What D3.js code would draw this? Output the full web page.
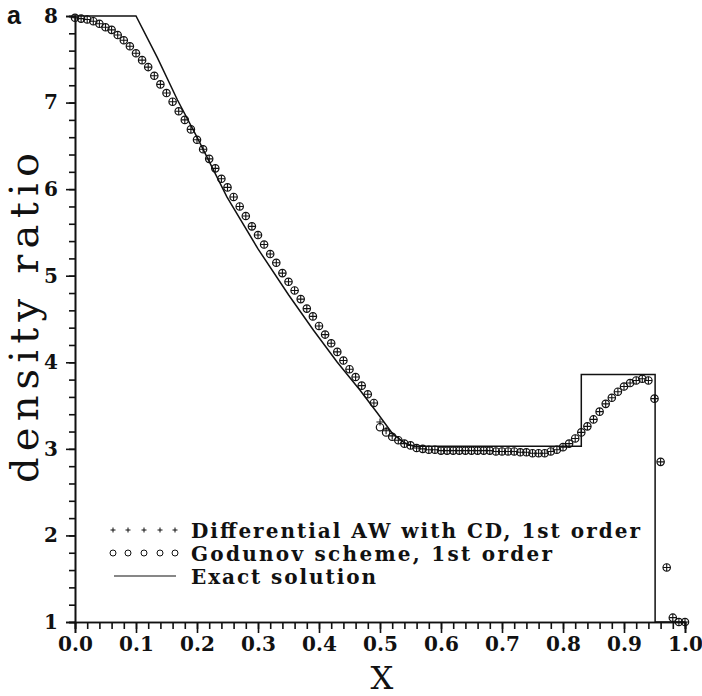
<!DOCTYPE html>
<html>
<head>
<meta charset="utf-8">
<script src="https://cdn.jsdelivr.net/npm/d3@7"></script>
<style>
  body { margin: 0; background: #fff; }
  svg { display: block; }
  .tick text { font-family: 'DejaVu Serif', serif; font-weight: bold; font-size: 20px; fill: #111; }
</style>
</head>
<body>
<div id="chart"></div>
<script>
// ---
// Data
// ---
const cellX = [
  0.00, 0.01, 0.02, 0.03, 0.04, 0.05, 0.06, 0.07, 0.08, 0.09,
  0.10, 0.11, 0.12, 0.13, 0.14, 0.15, 0.16, 0.17, 0.18, 0.19,
  0.20, 0.21, 0.22, 0.23, 0.24, 0.25, 0.26, 0.27, 0.28, 0.29,
  0.30, 0.31, 0.32, 0.33, 0.34, 0.35, 0.36, 0.37, 0.38, 0.39,
  0.40, 0.41, 0.42, 0.43, 0.44, 0.45, 0.46, 0.47, 0.48, 0.49,
  0.50, 0.51, 0.52, 0.53, 0.54, 0.55, 0.56, 0.57, 0.58, 0.59,
  0.60, 0.61, 0.62, 0.63, 0.64, 0.65, 0.66, 0.67, 0.68, 0.69,
  0.70, 0.71, 0.72, 0.73, 0.74, 0.75, 0.76, 0.77, 0.78, 0.79,
  0.80, 0.81, 0.82, 0.83, 0.84, 0.85, 0.86, 0.87, 0.88, 0.89,
  0.90, 0.91, 0.92, 0.93, 0.94, 0.95, 0.96, 0.97, 0.98, 0.99, 1.00
]

const godunov = [
  7.98, 7.97, 7.96, 7.94, 7.91, 7.87, 7.84, 7.78, 7.72, 7.65,
  7.57, 7.49, 7.41, 7.31, 7.21, 7.11, 7.01, 6.90, 6.80, 6.69,
  6.57, 6.46, 6.35, 6.24, 6.12, 6.02, 5.91, 5.80, 5.69, 5.57,
  5.47, 5.36, 5.25, 5.15, 5.03, 4.93, 4.83, 4.73, 4.62, 4.53,
  4.42, 4.32, 4.22, 4.12, 4.02, 3.92, 3.83, 3.73, 3.63, 3.53,
  3.25, 3.19, 3.14, 3.10, 3.06, 3.04, 3.01, 3.00, 2.99, 2.99,
  2.98, 2.98, 2.98, 2.98, 2.98, 2.98, 2.98, 2.98, 2.98, 2.97,
  2.97, 2.97, 2.97, 2.96, 2.96, 2.95, 2.95, 2.95, 2.97, 2.99,
  3.02, 3.06, 3.12, 3.19, 3.26, 3.34, 3.43, 3.52, 3.59, 3.66,
  3.72, 3.76, 3.79, 3.81, 3.79, 3.58, 2.85, 1.63, 1.05, 1.00, 1.00
]

const differentialAW = [
  7.98, 7.97, 7.96, 7.94, 7.91, 7.87, 7.84, 7.78, 7.72, 7.65,
  7.57, 7.49, 7.41, 7.31, 7.21, 7.11, 7.01, 6.90, 6.80, 6.69,
  6.57, 6.46, 6.35, 6.24, 6.12, 6.02, 5.91, 5.80, 5.69, 5.57,
  5.47, 5.36, 5.25, 5.15, 5.03, 4.93, 4.83, 4.73, 4.62, 4.53,
  4.42, 4.32, 4.22, 4.12, 4.02, 3.92, 3.83, 3.73, 3.63, 3.53,
  3.31, 3.21, 3.15, 3.10, 3.06, 3.04, 3.01, 3.00, 2.99, 2.99,
  2.98, 2.98, 2.98, 2.98, 2.98, 2.98, 2.98, 2.98, 2.98, 2.97,
  2.97, 2.97, 2.97, 2.96, 2.96, 2.95, 2.95, 2.95, 2.97, 2.99,
  3.02, 3.06, 3.12, 3.19, 3.26, 3.34, 3.43, 3.52, 3.59, 3.66,
  3.72, 3.76, 3.79, 3.81, 3.79, 3.58, 2.85, 1.63, 1.05, 1.00, 1.00
]

// exact solution
const exactX = [0.0, 0.1, 0.135, 0.168, 0.2, 0.249, 0.3, 0.35, 0.391, 0.43, 0.467, 0.495, 0.52, 0.54, 0.555, 0.83, 0.83, 0.951, 0.951, 1.0]
const exactY = [8.0, 8.0, 7.52, 7.03, 6.6, 5.91, 5.31, 4.78, 4.37, 4.0, 3.68, 3.42, 3.18, 3.07, 3.03, 3.03, 3.86, 3.86, 1.0, 1.0]

const xTicks = [0.0, 0.1, 0.2, 0.3, 0.4, 0.5, 0.6, 0.7, 0.8, 0.9, 1.0]
const yTicks = [1, 2, 3, 4, 5, 6, 7, 8]

const legendLabels = [
  'Differential AW with CD, 1st order',
  'Godunov scheme, 1st order',
  'Exact solution'
]

// ---
// Chart
// ---
const width = 702
const height = 696

const xScale = d3.scaleLinear()
  .domain([0, 1])
  .range([75, 685])

const yScale = d3.scaleLinear()
  .domain([1, 8])
  .range([622, 16])

const svg = d3.select('#chart').append('svg')
  .attr('width', width)
  .attr('height', height)

// Axes
const xMinor = d3.axisBottom(xScale)
  .tickValues(d3.range(0, 1.001, 0.02))
  .tickSize(7)
  .tickFormat('')

const xAxis = d3.axisBottom(xScale)
  .tickValues(xTicks)
  .tickSize(11)
  .tickPadding(4)
  .tickFormat(d3.format('.1f'))

const yMinor = d3.axisLeft(yScale)
  .tickValues(d3.range(1, 8.001, 0.2))
  .tickSize(6)
  .tickFormat('')

const yAxis = d3.axisLeft(yScale)
  .tickValues(yTicks)
  .tickSize(9)
  .tickPadding(8)
  .tickFormat(d3.format('d'))

const gx = svg.append('g').attr('transform', `translate(0, ${yScale(1)})`)
gx.append('g').call(xMinor)
gx.append('g').call(xAxis)

const gy = svg.append('g').attr('transform', `translate(${xScale(0)}, 0)`)
gy.append('g').call(yMinor)
gy.append('g').call(yAxis)

svg.selectAll('.domain').attr('stroke', '#111').attr('stroke-width', 1.6)
svg.selectAll('.tick line').attr('stroke', '#111').attr('stroke-width', 1.6)

// Exact solution
const line = d3.line()
  .x(d => xScale(d[0]))
  .y(d => yScale(d[1]))

svg.append('path')
  .datum(exactX.map((x, i) => [x, exactY[i]]))
  .attr('d', line)
  .attr('fill', 'none')
  .attr('stroke', '#111')
  .attr('stroke-width', 1.5)

// Godunov circles
svg.append('g').selectAll('circle')
    .data(cellX.map((x, i) => [x, godunov[i]]))
  .enter()
    .append('circle')
    .attr('cx', d => xScale(d[0]))
    .attr('cy', d => yScale(d[1]))
    .attr('r', 3.7)
    .attr('fill', 'none')
    .attr('stroke', '#111')
    .attr('stroke-width', 1.2)

// Differential AW crosses
svg.append('g').selectAll('path')
    .data(cellX.map((x, i) => [x, differentialAW[i]]))
  .enter()
    .append('path')
    .attr('transform', d => `translate(${xScale(d[0])}, ${yScale(d[1])})`)
    .attr('d', 'M-3.6,0H3.6M0,-3.6V3.6')
    .attr('stroke', '#111')
    .attr('stroke-width', 1.1)

// Legend
const legendX = [113, 128, 144, 160, 175]
const legendRows = [530, 553, 576]
const legend = svg.append('g')

legend.selectAll('.lp')
    .data(legendX)
  .enter()
    .append('path')
    .attr('transform', d => `translate(${d}, ${legendRows[0]})`)
    .attr('d', 'M-2.5,0H2.5M0,-2.5V2.5')
    .attr('stroke', '#111')
    .attr('stroke-width', 1)

legend.selectAll('.lc')
    .data(legendX)
  .enter()
    .append('circle')
    .attr('cx', d => d)
    .attr('cy', legendRows[1])
    .attr('r', 3)
    .attr('fill', 'none')
    .attr('stroke', '#111')
    .attr('stroke-width', 1)

legend.append('line')
  .attr('x1', 114).attr('x2', 176)
  .attr('y1', legendRows[2]).attr('y2', legendRows[2])
  .attr('stroke', '#111')
  .attr('stroke-width', 1.2)

const legendLengths = [449, 361, 185]
legend.selectAll('text')
    .data(legendLabels)
  .enter()
    .append('text')
    .attr('x', 191)
    .attr('y', (d, i) => legendRows[i] + 8)
    .attr('textLength', (d, i) => legendLengths[i])
    .attr('lengthAdjust', 'spacing')
    .style('font-family', "'DejaVu Serif', serif")
    .style('font-weight', 'bold')
    .style('font-size', '20px')
    .style('fill', '#111')
    .text(d => d)

// Titles
svg.append('text')
  .attr('transform', 'translate(38, 318) rotate(-90)')
  .attr('text-anchor', 'middle')
  .attr('textLength', 330)
  .attr('lengthAdjust', 'spacing')
  .style('font-family', "'DejaVu Serif', serif")
  .style('font-size', '40px')
  .style('fill', '#111')
  .text('density ratio')

svg.append('text')
  .attr('x', 382)
  .attr('y', 689)
  .attr('text-anchor', 'middle')
  .style('font-family', "'DejaVu Serif', serif")
  .style('font-size', '32px')
  .style('fill', '#111')
  .text('X')

svg.append('text')
  .attr('x', 7)
  .attr('y', 24)
  .style('font-family', "'Liberation Sans', sans-serif")
  .style('font-weight', 'bold')
  .style('font-size', '25px')
  .style('fill', '#111')
  .text('a')
</script>
</body>
</html>
